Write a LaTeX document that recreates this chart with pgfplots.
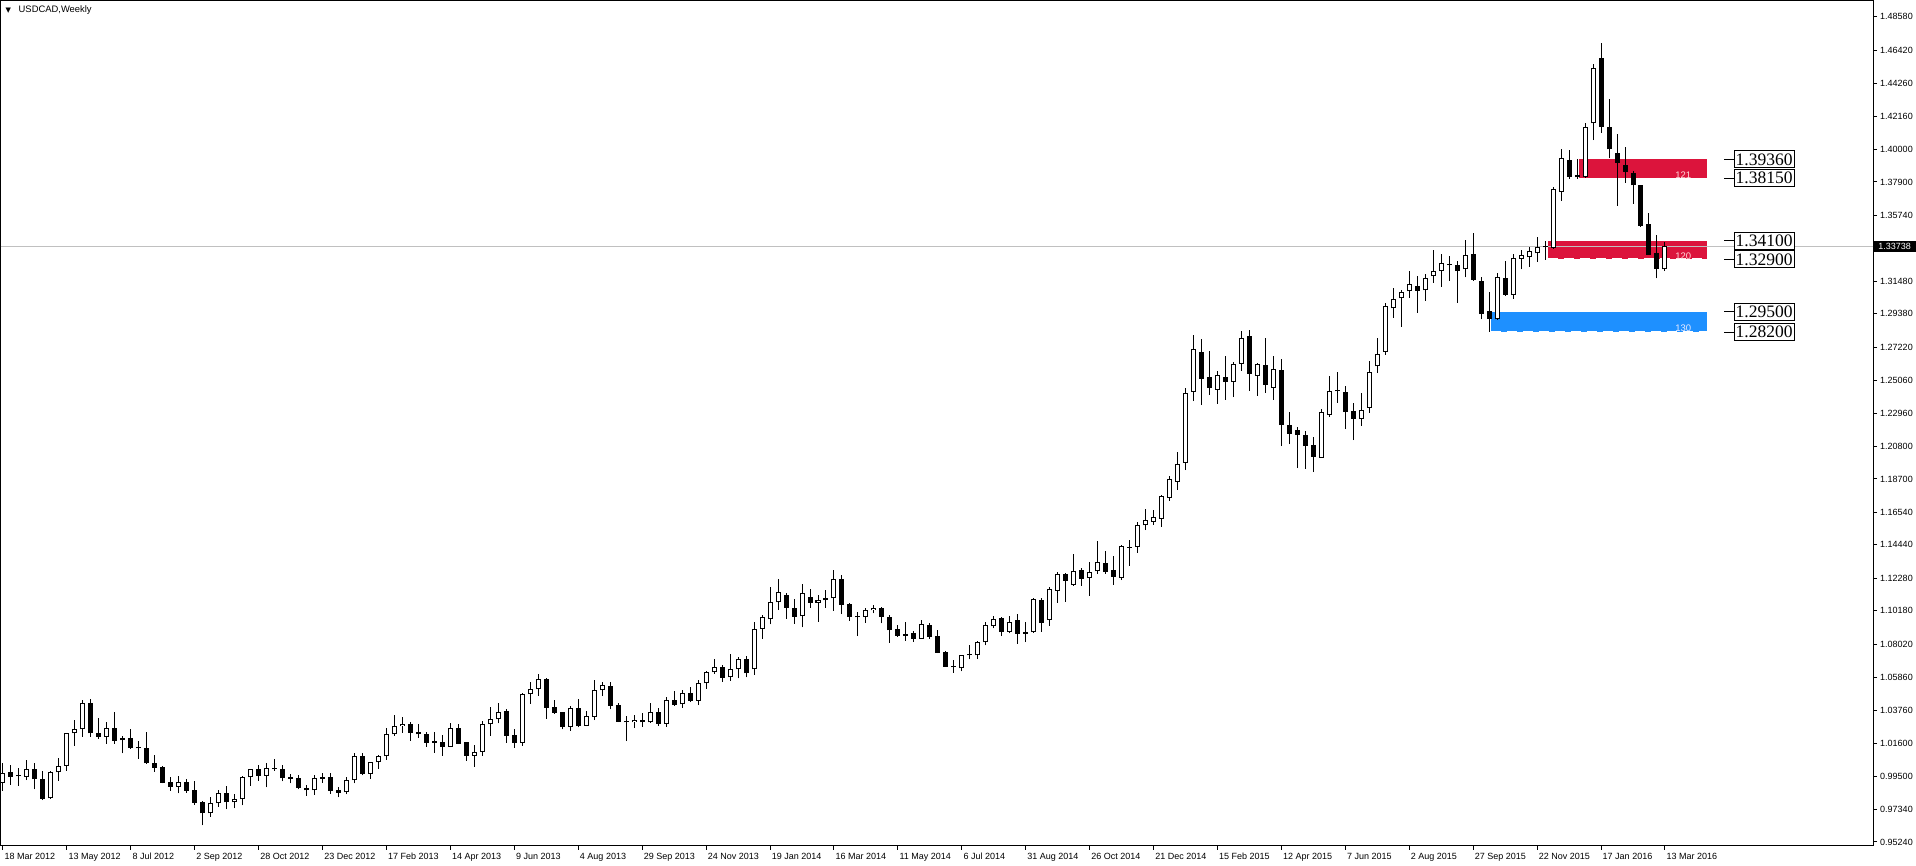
\documentclass[border=0pt]{standalone}
\usepackage{fontspec}
\setmainfont{Liberation Sans}
\newfontfamily\boxfont{Liberation Serif}
\newfontfamily\symfont{DejaVu Sans}
\usepackage{pgfplots}
\usepackage{pgfplotstable}
\pgfplotsset{compat=1.18}
\definecolor{zonered}{HTML}{DC143C}
\definecolor{zoneblue}{HTML}{1E90FF}
\definecolor{pricegray}{HTML}{C0C0C0}

% weekly USDCAD candles, i = week number from 18 Mar 2012
\pgfplotstableread{
i o h l c
0 0.9907 1.0032 0.9855 0.9972
1 0.9974 1.0019 0.9894 0.9946
2 0.9949 1.0000 0.9888 0.9947
3 0.9946 1.0054 0.9924 0.9993
4 0.9993 1.0032 0.9864 0.9929
5 0.9929 0.9983 0.9795 0.9804
6 0.9806 0.9983 0.9802 0.9976
7 0.9974 1.0064 0.9920 1.0013
8 1.0017 1.0228 0.9985 1.0226
9 1.0226 1.0310 1.0146 1.0252
10 1.0252 1.0442 1.0205 1.0420
11 1.0420 1.0446 1.0205 1.0226
12 1.0228 1.0323 1.0192 1.0205
13 1.0205 1.0299 1.0159 1.0258
14 1.0258 1.0362 1.0159 1.0179
15 1.0181 1.0209 1.0097 1.0194
16 1.0194 1.0252 1.0127 1.0133
17 1.0135 1.0174 1.0062 1.0129
18 1.0129 1.0235 1.0030 1.0032
19 1.0032 1.0084 0.9978 1.0004
20 1.0006 1.0015 0.9903 0.9907
21 0.9909 0.9942 0.9855 0.9881
22 0.9881 0.9950 0.9838 0.9909
23 0.9909 0.9931 0.9843 0.9855
24 0.9857 0.9918 0.9763 0.9778
25 0.9780 0.9789 0.9631 0.9709
26 0.9709 0.9814 0.9687 0.9774
27 0.9774 0.9860 0.9752 0.9838
28 0.9838 0.9886 0.9735 0.9780
29 0.9780 0.9834 0.9741 0.9802
30 0.9799 0.9950 0.9761 0.9942
31 0.9942 0.9995 0.9888 0.9993
32 0.9993 1.0019 0.9920 0.9952
33 0.9952 1.0032 0.9877 1.0000
34 1.0000 1.0058 0.9985 0.9995
35 0.9998 1.0019 0.9916 0.9935
36 0.9937 0.9963 0.9903 0.9933
37 0.9935 0.9955 0.9864 0.9871
38 0.9871 0.9890 0.9821 0.9858
39 0.9858 0.9955 0.9830 0.9935
40 0.9944 0.9967 0.9907 0.9933
41 0.9942 0.9967 0.9834 0.9855
42 0.9858 0.9881 0.9812 0.9843
43 0.9845 0.9946 0.9832 0.9922
44 0.9922 1.0097 0.9903 1.0077
45 1.0077 1.0097 0.9955 0.9965
46 0.9965 1.0041 0.9933 1.0039
47 1.0039 1.0086 0.9998 1.0080
48 1.0077 1.0258 1.0054 1.0220
49 1.0220 1.0342 1.0211 1.0271
50 1.0271 1.0334 1.0230 1.0286
51 1.0286 1.0297 1.0179 1.0230
52 1.0235 1.0284 1.0196 1.0220
53 1.0220 1.0235 1.0140 1.0166
54 1.0170 1.0235 1.0101 1.0166
55 1.0170 1.0213 1.0082 1.0140
56 1.0140 1.0291 1.0136 1.0258
57 1.0258 1.0286 1.0157 1.0159
58 1.0170 1.0170 1.0049 1.0082
59 1.0082 1.0148 1.0011 1.0103
60 1.0108 1.0308 1.0080 1.0284
61 1.0284 1.0398 1.0211 1.0316
62 1.0316 1.0424 1.0291 1.0364
63 1.0370 1.0383 1.0166 1.0211
64 1.0213 1.0254 1.0133 1.0166
65 1.0166 1.0485 1.0146 1.0480
66 1.0478 1.0558 1.0416 1.0510
67 1.0510 1.0610 1.0469 1.0575
68 1.0577 1.0584 1.0321 1.0392
69 1.0396 1.0442 1.0351 1.0360
70 1.0364 1.0364 1.0252 1.0269
71 1.0269 1.0403 1.0243 1.0388
72 1.0388 1.0448 1.0265 1.0273
73 1.0275 1.0370 1.0273 1.0336
74 1.0334 1.0571 1.0312 1.0504
75 1.0504 1.0558 1.0467 1.0536
76 1.0532 1.0558 1.0381 1.0405
77 1.0407 1.0424 1.0299 1.0301
78 1.0306 1.0338 1.0176 1.0297
79 1.0297 1.0342 1.0260 1.0312
80 1.0312 1.0355 1.0267 1.0297
81 1.0297 1.0424 1.0293 1.0364
82 1.0364 1.0388 1.0275 1.0288
83 1.0288 1.0459 1.0267 1.0441
84 1.0441 1.0500 1.0403 1.0409
85 1.0413 1.0506 1.0390 1.0487
86 1.0487 1.0526 1.0428 1.0435
87 1.0437 1.0571 1.0409 1.0551
88 1.0549 1.0627 1.0515 1.0620
89 1.0620 1.0704 1.0610 1.0655
90 1.0655 1.0668 1.0558 1.0586
91 1.0588 1.0739 1.0566 1.0640
92 1.0640 1.0717 1.0582 1.0704
93 1.0706 1.0726 1.0588 1.0614
94 1.0640 1.0946 1.0605 1.0898
95 1.0903 1.0989 1.0838 1.0976
96 1.0963 1.1172 1.0930 1.1073
97 1.1073 1.1221 1.1023 1.1137
98 1.1118 1.1131 1.0967 1.1038
99 1.1034 1.1092 1.0933 1.0980
100 1.0982 1.1191 1.0911 1.1131
101 1.1105 1.1157 1.1038 1.1071
102 1.1071 1.1120 1.0948 1.1086
103 1.1086 1.1150 1.1038 1.1099
104 1.1099 1.1280 1.1019 1.1221
105 1.1221 1.1249 1.0997 1.1058
106 1.1060 1.1071 1.0954 1.0980
107 1.0980 1.1010 1.0855 1.0975
108 1.0977 1.1038 1.0941 1.1021
109 1.1021 1.1053 1.1002 1.1036
110 1.1036 1.1040 1.0937 1.0980
111 1.0978 1.0989 1.0812 1.0892
112 1.0898 1.0926 1.0851 1.0857
113 1.0868 1.0946 1.0825 1.0857
114 1.0872 1.0887 1.0818 1.0838
115 1.0838 1.0959 1.0836 1.0930
116 1.0924 1.0939 1.0838 1.0851
117 1.0853 1.0894 1.0745 1.0747
118 1.0751 1.0756 1.0655 1.0657
119 1.0661 1.0700 1.0618 1.0653
120 1.0646 1.0734 1.0627 1.0730
121 1.0730 1.0795 1.0704 1.0739
122 1.0730 1.0821 1.0706 1.0814
123 1.0814 1.0946 1.0795 1.0924
124 1.0918 1.0984 1.0905 1.0967
125 1.0969 1.0976 1.0855 1.0883
126 1.0883 1.0984 1.0872 1.0944
127 1.0956 1.0997 1.0804 1.0870
128 1.0870 1.0946 1.0816 1.0879
129 1.0879 1.1099 1.0877 1.1092
130 1.1086 1.1099 1.0883 1.0941
131 1.0961 1.1170 1.0920 1.1157
132 1.1148 1.1267 1.1071 1.1254
133 1.1254 1.1265 1.1075 1.1213
134 1.1187 1.1385 1.1181 1.1273
135 1.1280 1.1293 1.1179 1.1226
136 1.1232 1.1334 1.1114 1.1267
137 1.1273 1.1469 1.1256 1.1331
138 1.1325 1.1405 1.1256 1.1271
139 1.1280 1.1372 1.1185 1.1239
140 1.1232 1.1441 1.1217 1.1435
141 1.1424 1.1476 1.1308 1.1431
142 1.1433 1.1592 1.1394 1.1571
143 1.1571 1.1676 1.1540 1.1603
144 1.1594 1.1670 1.1573 1.1622
145 1.1614 1.1767 1.1560 1.1760
146 1.1749 1.1889 1.1730 1.1868
147 1.1853 1.2045 1.1799 1.1965
148 1.1976 1.2456 1.1928 1.2424
149 1.2435 1.2801 1.2374 1.2708
150 1.2689 1.2775 1.2348 1.2519
151 1.2527 1.2698 1.2413 1.2461
152 1.2448 1.2568 1.2355 1.2540
153 1.2527 1.2665 1.2381 1.2497
154 1.2499 1.2626 1.2400 1.2611
155 1.2616 1.2827 1.2570 1.2779
156 1.2792 1.2833 1.2441 1.2549
157 1.2538 1.2617 1.2407 1.2611
158 1.2605 1.2782 1.2426 1.2480
159 1.2461 1.2665 1.2381 1.2579
160 1.2573 1.2644 1.2083 1.2219
161 1.2219 1.2303 1.2096 1.2161
162 1.2188 1.2204 1.1941 1.2155
163 1.2153 1.2178 1.1935 1.2083
164 1.2088 1.2142 1.1915 1.2015
165 1.2008 1.2320 1.2006 1.2301
166 1.2286 1.2536 1.2273 1.2437
167 1.2437 1.2562 1.2364 1.2439
168 1.2430 1.2471 1.2193 1.2305
169 1.2307 1.2359 1.2122 1.2260
170 1.2260 1.2426 1.2213 1.2314
171 1.2331 1.2633 1.2299 1.2560
172 1.2598 1.2782 1.2555 1.2676
173 1.2693 1.3006 1.2672 1.2986
174 1.2973 1.3103 1.2911 1.3032
175 1.3038 1.3092 1.2855 1.3079
176 1.3083 1.3215 1.3040 1.3128
177 1.3116 1.3182 1.2945 1.3088
178 1.3090 1.3193 1.3023 1.3167
179 1.3180 1.3350 1.3139 1.3213
180 1.3213 1.3325 1.3113 1.3264
181 1.3252 1.3314 1.3152 1.3256
182 1.3251 1.3277 1.3010 1.3213
183 1.3225 1.3415 1.3174 1.3316
184 1.3322 1.3458 1.3152 1.3159
185 1.3152 1.3174 1.2902 1.2935
186 1.2956 1.3079 1.2823 1.2907
187 1.2902 1.3200 1.2900 1.3174
188 1.3167 1.3279 1.3055 1.3060
189 1.3062 1.3322 1.3036 1.3297
190 1.3294 1.3350 1.3225 1.3316
191 1.3303 1.3372 1.3241 1.3344
192 1.3329 1.3434 1.3275 1.3368
193 1.3368 1.3411 1.3288 1.3376
194 1.3366 1.3758 1.3357 1.3743
195 1.3727 1.4003 1.3669 1.3943
196 1.3930 1.3997 1.3812 1.3824
197 1.3820 1.3937 1.3812 1.3833
198 1.3820 1.4169 1.3818 1.4143
199 1.4169 1.4553 1.4061 1.4525
200 1.4589 1.4686 1.4109 1.4148
201 1.4143 1.4327 1.3943 1.4001
202 1.3977 1.4100 1.3637 1.3911
203 1.3900 1.4016 1.3786 1.3857
204 1.3851 1.3861 1.3650 1.3768
205 1.3770 1.3772 1.3501 1.3506
206 1.3519 1.3590 1.3318 1.3320
207 1.3329 1.3445 1.3167 1.3230
208 1.3225 1.3402 1.3213 1.33738
}\candles

\begin{document}
\begin{tikzpicture}
\begin{axis}[
    at={(1pt,20pt)}, anchor=south west,
    scale only axis, width=1872pt, height=845pt,
    xmin=-0.25, xmax=234.04,
    ymin=0.94977, ymax=1.49599,
    clip=false,
    font=\fontsize{9}{10}\selectfont,
    axis line style={black, line width=1pt},
    tick style={black, line width=1pt},
    major tick length=4pt, tick align=outside,
    xtick pos=bottom, ytick pos=right, yticklabel pos=right,
    xtick={0,8,...,208},
    xticklabels={18 Mar 2012, 13 May 2012, 8 Jul 2012, 2 Sep 2012, 28 Oct 2012,
        23 Dec 2012, 17 Feb 2013, 14 Apr 2013, 9 Jun 2013, 4 Aug 2013,
        29 Sep 2013, 24 Nov 2013, 19 Jan 2014, 16 Mar 2014, 11 May 2014,
        6 Jul 2014, 31 Aug 2014, 26 Oct 2014, 21 Dec 2014, 15 Feb 2015,
        12 Apr 2015, 7 Jun 2015, 2 Aug 2015, 27 Sep 2015, 22 Nov 2015,
        17 Jan 2016, 13 Mar 2016},
    xticklabel style={anchor=north west, inner sep=0pt, xshift=1.5pt, yshift=-3pt},
    ytick={0.95240,0.97340,0.99500,1.01600,1.03760,1.05860,1.08020,1.10180,
        1.12280,1.14440,1.16540,1.18700,1.20800,1.22960,1.25060,1.27220,
        1.29380,1.31480,1.35740,1.37900,1.40000,1.42160,1.44260,1.46420,1.48580},
    yticklabels={0.95240,0.97340,0.99500,1.01600,1.03760,1.05860,1.08020,1.10180,
        1.12280,1.14440,1.16540,1.18700,1.20800,1.22960,1.25060,1.27220,
        1.29380,1.31480,1.35740,1.37900,1.40000,1.42160,1.44260,1.46420,1.48580},
    yticklabel style={anchor=west, inner sep=0pt, xshift=3pt},
]
    % supply / demand zones
    \addplot[fill=zonered, draw=none] coordinates {(197.2,1.3815) (213.3,1.3815) (213.3,1.3936) (197.2,1.3936)} --cycle;
    \addplot[fill=zonered, draw=none] coordinates {(193.4,1.3290) (213.3,1.3290) (213.3,1.3410) (193.4,1.3410)} --cycle;
    \addplot[fill=zoneblue, draw=none] coordinates {(186.2,1.2820) (213.3,1.2820) (213.3,1.2950) (186.2,1.2950)} --cycle;
    \addplot[white, line width=1pt, dash pattern=on 10pt off 6pt] coordinates {(193.4,1.3294) (213.3,1.3294)};
    \addplot[white, line width=1pt, dash pattern=on 10pt off 6pt] coordinates {(186.2,1.2824) (213.3,1.2824)};
    \node[text=pink!60!white, font=\fontsize{9.5}{10}\selectfont] at (axis cs:210.3,1.3831) {121};
    \node[text=pink!60!white, font=\fontsize{9.5}{10}\selectfont] at (axis cs:210.3,1.3307) {120};
    \node[text=blue!8!white, font=\fontsize{9.5}{10}\selectfont] at (axis cs:210.3,1.2844) {130};

    % current price line
    \addplot[pricegray, line width=1pt] coordinates {(-0.25,1.33738) (234.04,1.33738)};

    % wicks
    \addplot[draw=none, mark=none, error bars/.cd, y dir=plus, y explicit, error mark=none,
        error bar style={draw=black, line width=1pt}]
        table[x=i, y=l, y error expr=\thisrow{h}-\thisrow{l}] \candles;
    % bodies
    \addplot[draw=none, mark=none, error bars/.cd, y dir=plus, y explicit, error mark=none,
        error bar style={draw=black, line width=5pt}]
        table[x=i, y expr={min(\thisrow{o},\thisrow{c})},
              y error expr={max(abs(\thisrow{c}-\thisrow{o}),0.0008)}] \candles;
    % hollow inside of rising candles
    \addplot[draw=none, mark=none, error bars/.cd, y dir=plus, y explicit, error mark=none,
        error bar style={draw=white, line width=3pt}]
        table[x=i, y expr={min(\thisrow{o},\thisrow{c})+0.00065},
              y error expr={max(\thisrow{c}-\thisrow{o}-0.0013,0)}] \candles;

    % level labels
    \pgfplotsinvokeforeach{1.39360,1.38150,1.34100,1.32900,1.29500,1.28200}{
        \draw[black, line width=1pt] (axis cs:215.4,#1) -- (axis cs:216.7,#1);
        \node[draw=black, line width=1pt, fill=white, anchor=west, inner xsep=1.5pt, inner ysep=0pt,
            minimum height=17pt, font=\boxfont\fontsize{17.5}{18}\selectfont]
            at (axis cs:216.6,#1) {#1};
    }
    \node[fill=black, text=white, anchor=west, inner xsep=2pt, inner ysep=0pt, minimum height=11pt,
        minimum width=42pt]
        at (axis cs:234.04,1.33738) [xshift=0.5pt] {1.33738};

    \node[anchor=west, inner sep=0pt, font=\fontsize{9.4}{10}\selectfont]
        at (rel axis cs:0,1) [xshift=4.5pt, yshift=-9pt]
        {\makebox[13pt][l]{\symfont\fontsize{7}{8}\selectfont ▼}USDCAD,Weekly};
\end{axis}
\pgfresetboundingbox
\useasboundingbox (0,0) rectangle (1916pt,866pt);
\end{tikzpicture}
\end{document}
